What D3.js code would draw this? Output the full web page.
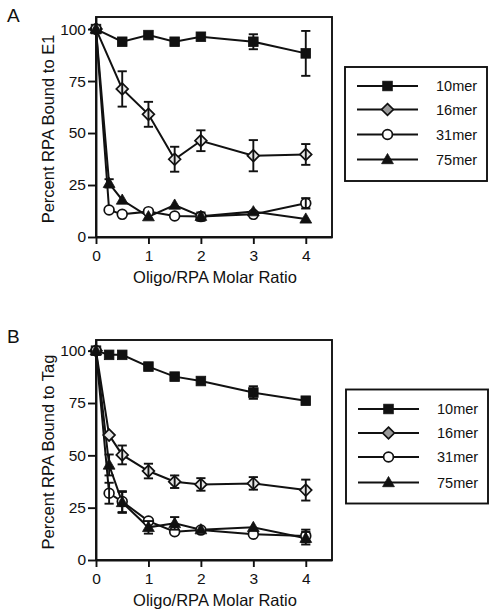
<!DOCTYPE html>
<html><head><meta charset="utf-8">
<script src="https://cdn.jsdelivr.net/npm/d3@7/dist/d3.min.js"></script>
<style>body{margin:0;background:#fff}svg{display:block}</style>
</head><body>
<script>
// ---- data ----
const seriesNames = ["10mer","16mer","31mer","75mer"];
const xTicks = [0,1,2,3,4];
const yTicks = [0,25,50,75,100];
const xFull = [0,0.25,0.5,1,1.5,2,3,4];
const xNoQuarter = [0,0.5,1,1.5,2,3,4];

// Panel A (bound to E1)
const a10 = [100,93.9,97.1,93.9,96.3,93.9,88.3];
const a10err = [0,0,0,0,0,3.6,10.8];
const a16 = [100,71.2,59,37.4,46.3,39.1,39.7];
const a16err = [0,8.5,6,6,5,7.5,5];
const a31 = [100,13,10.9,12.2,10.1,9.8,10.9,16.2];
const a31err = [0,0,0,0,0,2,0,2.5];
const a75 = [100,25.8,17.8,9.8,15.4,10,12.2,8.7];
const a75err = [0,2,0,0,0,0,0,0];

// Panel B (bound to Tag)
const b10 = [100,98,98,92.4,87.6,85.5,80,76.1];
const b10err = [0,0,0,0,0,0,3,0];
const b16 = [100,59.7,50.2,42.5,37.4,36.1,36.6,33.4];
const b16err = [0,0,4.5,3.5,3,3,3,5];
const b31 = [100,31.9,27.9,18.6,13.5,14.3,12.3,11.5];
const b31err = [0,5,5,0,0,0,0,3];
const b75 = [100,45.4,27.5,15.6,17.5,14.5,15.6,10.4];
const b75err = [0,5,5,3,3,0,0,3];

const FONT = "'Liberation Sans', Arial, Helvetica, sans-serif";
const svg = d3.select("body").append("svg").attr("width",495).attr("height",614);

function zip(xs, ys, es){ return xs.map((x,i)=>({x, y:ys[i], e:es[i]})); }

function marker(g, type, cx, cy, plotFill){
  if(type==="10mer"){
    g.append("rect").attr("x",cx-4.8).attr("y",cy-4.8).attr("width",9.6).attr("height",9.6)
      .attr("fill","#111").attr("stroke","#111").attr("stroke-width",0.8);
  } else if(type==="16mer"){
    const r=5.9;
    g.append("path").attr("d",`M${cx},${cy-r}L${cx+r},${cy}L${cx},${cy+r}L${cx-r},${cy}Z`)
      .attr("fill",plotFill?"#e6e6e6":"#9a9a9a").attr("stroke","#111").attr("stroke-width",1.7);
  } else if(type==="31mer"){
    g.append("circle").attr("cx",cx).attr("cy",cy).attr("r",4.9)
      .attr("fill","#fff").attr("stroke","#111").attr("stroke-width",1.7);
  } else {
    g.append("path").attr("d",`M${cx},${cy-6}L${cx+5.9},${cy+4.2}L${cx-5.9},${cy+4.2}Z`)
      .attr("fill","#111").attr("stroke","#111").attr("stroke-width",0.8);
  }
}

function panel(cfg){
  const x = d3.scaleLinear().domain([0,4.5]).range([96,332]);
  const y = d3.scaleLinear().domain([0,cfg.yTop]).range([cfg.yBottom,cfg.yTopPx]);
  const g = svg.append("g");

  // frame
  g.append("rect").attr("x",x(0)).attr("y",y.range()[1])
    .attr("width",x(4.5)-x(0)).attr("height",y.range()[0]-y.range()[1])
    .attr("fill","none").attr("stroke","#111").attr("stroke-width",1.9);

  // axes
  const xAxis = d3.axisBottom(x).tickValues(xTicks).tickSize(7).tickSizeOuter(0).tickFormat(d3.format("d"));
  const xa = g.append("g").attr("transform",`translate(0,${y(0)})`).call(xAxis);
  const yAxis = d3.axisLeft(y).tickValues(yTicks).tickSize(8).tickSizeOuter(0).tickFormat(d3.format("d"));
  const ya = g.append("g").attr("transform",`translate(${x(0)},0)`).call(yAxis);
  [xa,ya].forEach(a=>{
    a.select(".domain").attr("stroke","#111").attr("stroke-width",1.9);
    a.selectAll(".tick line").attr("stroke","#111").attr("stroke-width",1.9);
    a.selectAll(".tick text").attr("font-family",FONT).attr("font-size",15.5).attr("fill","#111");
  });
  xa.selectAll(".tick text").attr("dy","0.95em").attr("y",9);
  ya.selectAll(".tick text").attr("x",-10);

  // axis titles
  g.append("text").attr("x",215).attr("y",cfg.yBottom+46).attr("text-anchor","middle")
    .attr("font-family",FONT).attr("font-size",16.5).attr("fill","#111").text("Oligo/RPA Molar Ratio");
  g.append("text").attr("transform",`translate(54,${(y.range()[0]+y.range()[1])/2+2}) rotate(-90)`)
    .attr("text-anchor","middle").attr("font-family",FONT).attr("font-size",16.5).attr("fill","#111")
    .text(cfg.yLabel);
  g.append("text").attr("x",7).attr("y",cfg.letterY).attr("font-family",FONT).attr("font-size",19)
    .attr("fill","#111").text(cfg.letter);

  const line = d3.line().x(d=>x(d.x)).y(d=>y(d.y));
  const order = ["10mer","16mer","31mer","75mer"];
  // lines
  cfg.series.forEach(s=>{
    g.append("path").datum(s.pts).attr("d",line).attr("fill","none")
      .attr("stroke","#111").attr("stroke-width",2);
  });
  // markers and error bars
  cfg.series.forEach(s=>{
    const sg = g.append("g");
    s.pts.forEach(p=>marker(sg, s.name, x(p.x), y(p.y), true));
    s.pts.filter(p=>p.e>0).forEach(p=>{
      const cx=x(p.x), y1=y(p.y+p.e), y2=y(p.y-p.e);
      sg.append("line").attr("x1",cx).attr("x2",cx).attr("y1",y1).attr("y2",y2)
        .attr("stroke","#111").attr("stroke-width",1.9);
      [y1,y2].forEach(yy=>sg.append("line").attr("x1",cx-4.6).attr("x2",cx+4.6)
        .attr("y1",yy).attr("y2",yy).attr("stroke","#111").attr("stroke-width",1.9));
    });
  });

  // legend
  const L = cfg.legend;
  g.append("rect").attr("x",L.x).attr("y",L.y).attr("width",L.w).attr("height",L.h)
    .attr("fill","none").attr("stroke","#111").attr("stroke-width",1.9);
  order.forEach((nm,i)=>{
    const ly = L.rows[i];
    g.append("line").attr("x1",L.x+12).attr("x2",L.x+73).attr("y1",ly).attr("y2",ly)
      .attr("stroke","#111").attr("stroke-width",1.9);
    marker(g, nm, L.x+42.5, ly, false);
    g.append("text").attr("x",L.x+91).attr("y",ly+5).attr("font-family",FONT)
      .attr("font-size",14.5).attr("fill","#111").text(nm);
  });
}

panel({
  letter:"A", letterY:22, yLabel:"Percent RPA Bound to E1",
  yTop:105.8, yBottom:237, yTopPx:17,
  series:[
    {name:"10mer", pts:zip(xNoQuarter,a10,a10err)},
    {name:"16mer", pts:zip(xNoQuarter,a16,a16err)},
    {name:"31mer", pts:zip(xFull,a31,a31err)},
    {name:"75mer", pts:zip(xFull,a75,a75err)}
  ],
  legend:{x:345,y:67,w:142,h:114,rows:[86,109.5,134.5,159.5]}
});
panel({
  letter:"B", letterY:343, yLabel:"Percent RPA Bound to Tag",
  yTop:105.1, yBottom:560, yTopPx:340,
  series:[
    {name:"10mer", pts:zip(xFull,b10,b10err)},
    {name:"16mer", pts:zip(xFull,b16,b16err)},
    {name:"31mer", pts:zip(xFull,b31,b31err)},
    {name:"75mer", pts:zip(xFull,b75,b75err)}
  ],
  legend:{x:346,y:389.5,w:142,h:114,rows:[409,433,457,482.5]}
});
</script>
</body></html>
